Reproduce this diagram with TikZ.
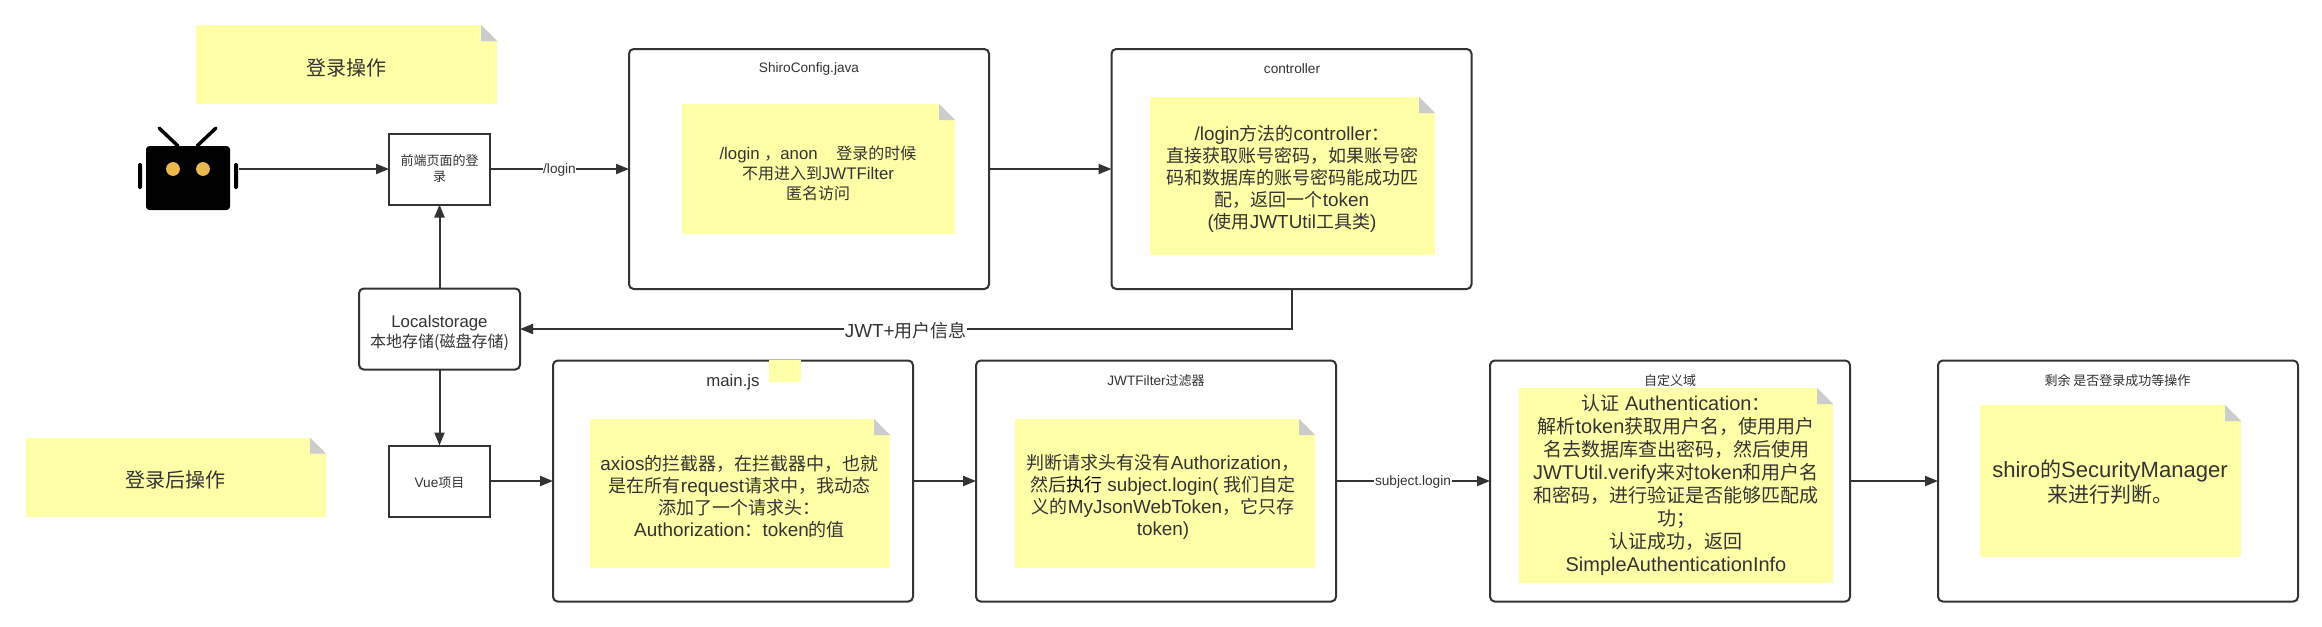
\documentclass[tikz,border=0pt]{standalone}
\usepackage{fontspec}
\usepackage{xcolor}
\usetikzlibrary{arrows.meta}
\setmainfont{Liberation Sans}[Scale=1.05]
\newfontfamily\cjkfont{Noto Sans CJK SC}
\newcommand{\zh}[1]{{\cjkfont #1}}
\definecolor{linecol}{HTML}{333333}
\definecolor{notecol}{HTML}{FFFFA8}
\definecolor{foldcol}{HTML}{CCCCCC}
\definecolor{eyecol}{HTML}{EAB84F}
\tikzset{
	sized/.style 2 args={minimum width=#1*0.75pt, minimum height=#2*0.75pt, inner sep=0pt, outer sep=0pt},
	plainbox/.style={draw=linecol, line width=1.5pt, fill=white, text=linecol, align=center},
	roundbox/.style={plainbox, rounded corners=3.5pt},
	note/.style={fill=notecol, path picture={
		\fill [white] (path picture bounding box.north east) -- ++(-12pt,0) -- ++(12pt,-12pt) -- cycle;
		\fill [foldcol] (path picture bounding box.north east) ++(-12pt,0) -- ++(0,-12pt) -- ++(12pt,0) -- cycle;
	}},
	notetext/.style={text=linecol, align=center, inner sep=0pt},
	boxtitle/.style={text=linecol, inner sep=0pt, font=\fontsize{9.75}{12}\selectfont},
	arr/.style={draw=linecol, line width=1.5pt, -{Triangle[length=9.75pt,width=7.5pt]}},
	linelabel/.style={fill=white, text=linecol, inner sep=0.5pt, yshift=-1pt, font=\fontsize{9.75}{12}\selectfont},
}
\begin{document}
\begin{tikzpicture}[x=0.75pt, y=-0.75pt]
			\useasboundingbox (0,0) rectangle (2322,626);
			\node [note, sized={301}{79}] (loginnote) at (346.5,64.5) {};
			\node [notetext, font=\fontsize{15}{19}\selectfont] (logintext) at (346,68) {\zh{登录操作}};
			\node [note, sized={300}{79}] (afternote) at (176,477) {};
			\node [notetext, font=\fontsize{15}{19}\selectfont] (aftertext) at (175,480) {\zh{登录后操作}};

			\node [fill=black, rounded corners=2.5pt, sized={84}{64}] (robot) at (188,178) {};
			\draw [line width=2.6pt, line cap=round] (159,128) -- (178,146);
			\draw [line width=2.6pt, line cap=round] (216,128) -- (197,146);
			\fill [eyecol] (173,169) circle [radius=5.2pt];
			\fill [eyecol] (203,169) circle [radius=5.2pt];
			\fill [black, rounded corners=1pt] (138,163) rectangle (142,189);
			\fill [black, rounded corners=1pt] (234,163) rectangle (238,189);
			\coordinate (robotout) at (239,169);

			\node [plainbox, sized={101}{71}, font=\fontsize{9.75}{12}\selectfont] (front) at (439.5,169) {\zh{前端页面的登}\\\zh{录}};
			\node [roundbox, sized={161}{81}] (local) at (439.5,329) {};
			\node [notetext, font=\fontsize{12}{15}\selectfont] (localtext) at (439.5,333) {Localstorage\\\zh{本地存储(磁盘存储)}};
			\node [plainbox, sized={101}{71}] (vue) at (439.5,481) {};
			\node [notetext, font=\fontsize{9.75}{12}\selectfont] (vuetext) at (439.5,483) {Vue\zh{项目}};

			\node [roundbox, sized={360}{240}] (shiro) at (809,169) {};
			\node [boxtitle] (shirotitle) at (809,69) {ShiroConfig.java};
			\node [note, sized={273.5}{130}] (shironote) at (818.25,169) {};
			\node [notetext, font=\fontsize{12}{15}\selectfont] (shirotext) at (818,173) {/login \zh{，}anon\ \ \ \ \zh{登录的时候}\\\zh{不用进入到}JWTFilter\\\zh{匿名访问}};

			\node [roundbox, sized={360}{240}] (controller) at (1291.5,169) {};
			\node [boxtitle] (controllertitle) at (1292,69) {controller};
			\node [note, sized={285}{158}] (controllernote) at (1292.5,176) {};
			\node [notetext, font=\fontsize{13.5}{16.5}\selectfont] (controllertext) at (1292,179) {/login\zh{方法的}controller\zh{：}\\\zh{直接获取账号密码，如果账号密}\\\zh{码和数据库的账号密码能成功匹}\\\zh{配，返回一个}token\\(\zh{使用}JWTUtil\zh{工具类})};

			\node [roundbox, sized={360}{241}] (mainjs) at (733,481) {};
			\node [fill=notecol, sized={32}{22}] (mainpatch) at (785,371) {};
			\node [boxtitle, font=\fontsize{12}{15}\selectfont] (maintitle) at (733,382) {main.js};
			\node [note, sized={300}{149}] (mainnote) at (740,493.5) {};
			\node [notetext, font=\fontsize{13.5}{16.5}\selectfont] (maintext) at (739.5,497) {axios\zh{的拦截器，在拦截器中，也就}\\\zh{是在所有}request\zh{请求中，我动态}\\\zh{添加了一个请求头：}\\Authorization\zh{：}token\zh{的值}};

			\node [roundbox, sized={360}{241}] (filter) at (1156,481) {};
			\node [boxtitle] (filtertitle) at (1156,381) {JWTFilter\zh{过滤器}};
			\node [note, sized={300}{149}] (filternote) at (1165,493.5) {};
			\node [notetext, font=\fontsize{13.5}{16.5}\selectfont] (filtertext) at (1163,497) {\zh{判断请求头有没有}Authorization\zh{，}\\\zh{然后}\textcolor{black}{\zh{执行}} subject.login( \zh{我们自定}\\\zh{义的}MyJsonWebToken\zh{，它只存}\\token)};

			\node [roundbox, sized={360}{241}] (realm) at (1670,481) {};
			\node [boxtitle] (realmtitle) at (1670,381) {\zh{自定义域}};
			\node [note, sized={314}{195}] (realmnote) at (1676,485.5) {};
			\node [notetext, font=\fontsize{14.25}{17.25}\selectfont] (realmtext) at (1676,485.5) {\zh{认证} Authentication\zh{：}\\\zh{解析}token\zh{获取用户名，使用用户}\\\zh{名去数据库查出密码，然后使用}\\JWTUtil.verify\zh{来对}token\zh{和用户名}\\\zh{和密码，进行验证是否能够匹配成}\\\zh{功；}\\\zh{认证成功，返回}\\SimpleAuthenticationInfo};

			\node [roundbox, sized={360}{241}] (rest) at (2118,481) {};
			\node [boxtitle] (resttitle) at (2117.5,381) {\zh{剩余 是否登录成功等操作}};
			\node [note, sized={261}{152}] (restnote) at (2110.5,481) {};
			\node [notetext, font=\fontsize{15.75}{18.75}\selectfont] (resttext) at (2110,482) {shiro\zh{的}SecurityManager\\\zh{来进行判断。}};

			\draw [arr] (robotout) -- (front);
			\draw [arr] (front) -- node [linelabel] {/login} (shiro);
			\draw [arr] (shiro) -- (controller);
			\draw [arr] (controller.south) |- node [linelabel, pos=0.75, font=\fontsize{13.5}{16}\selectfont] {JWT+\zh{用户信息}} (local.east);
			\draw [arr] (local) -- (front);
			\draw [arr] (local) -- (vue);
			\draw [arr] (vue) -- (mainjs);
			\draw [arr] (mainjs) -- (filter);
			\draw [arr] (filter) -- node [linelabel] {subject.login} (realm);
			\draw [arr] (realm) -- (rest);
		\end{tikzpicture}
\end{document}
